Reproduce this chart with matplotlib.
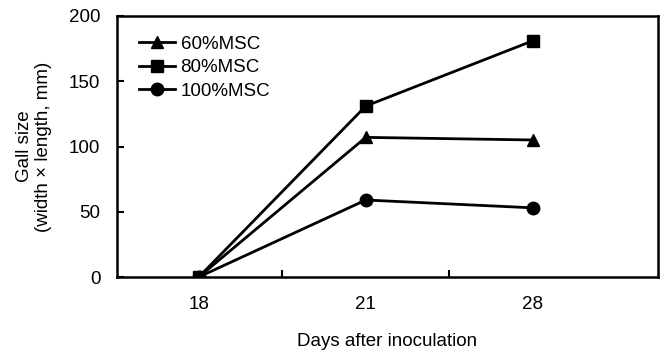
import matplotlib
matplotlib.use("Agg")
import matplotlib.pyplot as plt

plt.rcParams['font.family'] = ['Liberation Sans', 'DejaVu Sans']

days = ["18", "21", "28"]
msc60 = [0, 107, 105]
msc80 = [0, 131, 181]
msc100 = [0, 59, 53]
yticks = [0, 50, 100, 150, 200]

fig = plt.figure(figsize=(6.64, 3.55), dpi=100)
ax = fig.add_axes([117/664, 1-277/355, (658-117)/664, (277-16)/355])

x = list(range(len(days)))
ax.plot(x, msc60, '-^', color='black', lw=2, ms=9, label='60%MSC')
ax.plot(x, msc80, '-s', color='black', lw=2, ms=8.5, label='80%MSC')
ax.plot(x, msc100, '-o', color='black', lw=2, ms=9, label='100%MSC')

fs = 13.5
ax.set_xlim(-0.49, 2.75)
ax.set_ylim(0, 200)
ax.set_yticks(yticks)
ax.set_xticks(x)
ax.set_xticklabels(days)
ax.tick_params(axis='x', which='major', length=0, pad=14, labelsize=fs)
ax.set_xticks([0.5, 1.5], minor=True)
ax.tick_params(axis='x', which='minor', direction='in', length=5, width=1.5)
ax.tick_params(axis='y', direction='in', length=5, width=1.5, labelsize=fs, pad=12)
for s in ax.spines.values():
    s.set_linewidth(1.8)

ax.set_ylabel('Gall size\n(width \u00d7 length, mm)', fontsize=fs, labelpad=12,
              linespacing=1.2)
ax.set_xlabel('Days after inoculation', fontsize=fs, labelpad=14)

ax.legend(loc='upper left', frameon=False, fontsize=fs, handlelength=1.9,
          handletextpad=0.3, labelspacing=0.35, bbox_to_anchor=(0.01, 0.99))

fig.savefig('out.png', dpi=100)
